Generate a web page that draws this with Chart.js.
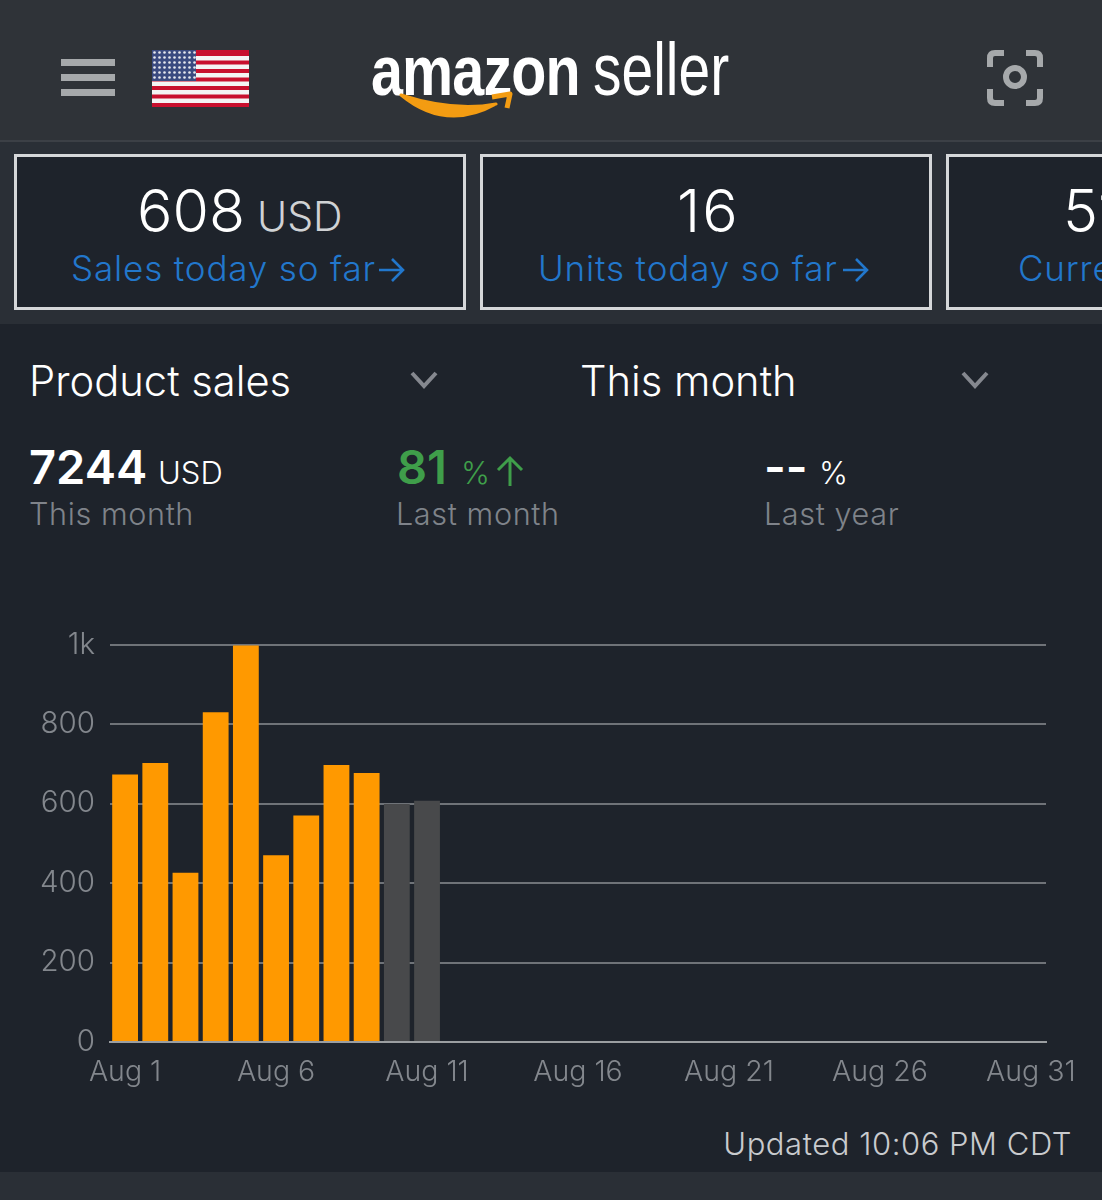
<!DOCTYPE html>
<html>
<head>
<meta charset="utf-8">
<title>amazon seller</title>
<script src="https://cdn.jsdelivr.net/npm/chart.js@4"></script>
<style>
  html, body { margin: 0; padding: 0; background: #1e232b; }
  body { position: relative; width: 1102px; height: 1200px; overflow: hidden; font-family: Inter, Roboto, sans-serif; }
  .abs { position: absolute; white-space: nowrap; line-height: 1; }
  #header { position: absolute; left: 0; top: 0; width: 1102px; height: 140px; background: #2f3338; }
  #band { position: absolute; left: 0; top: 140px; width: 1102px; height: 184px; background: #2a2f36; border-top: 2px solid #3c4046; box-sizing: border-box; }
  #footer { position: absolute; left: 0; top: 1172px; width: 1102px; height: 28px; background: #2a2f36; }
  .tile { position: absolute; top: 154px; width: 452px; height: 156px; box-sizing: border-box; background: #1e232b; border: 3px solid #d5d7d9; }
  .burger { position: absolute; left: 61px; width: 54px; height: 7px; background: #a6a9ab; }
  .big { color: #fff; font-size: 59px; font-weight: 300; }
  .unit { color: #d0d2d4; font-size: 41px; font-weight: 300; }
  .link { color: #2277cc; font-size: 35px; font-weight: 300; letter-spacing: .85px; }
  .pick { color: #fff; font-size: 41.7px; font-weight: 300; }
  .stat { font-size: 47px; font-weight: 600; color: #fff; }
  .statunit { font-size: 31px; font-weight: 300; color: #fff; }
  .sub { font-size: 30.6px; font-weight: 300; color: #7f838a; letter-spacing: .6px; }
  #chart { position: absolute; left: 0; top: 612px; }
</style>
</head>
<body>
<div id="header"></div>
<div id="band"></div>
<div id="footer"></div>

<!-- top bar -->
<div class="burger" style="top:59px"></div>
<div class="burger" style="top:74px"></div>
<div class="burger" style="top:89px"></div>
<svg class="abs" style="left:152px;top:50px" width="97" height="57" viewBox="0 0 97 57">
  <rect width="97" height="57" fill="#c8102e"/>
  <g fill="#f4f4f4">
    <rect y="6" width="97" height="4.5"/><rect y="14.5" width="97" height="4.5"/><rect y="23" width="97" height="4.5"/>
    <rect y="31.5" width="97" height="4.5"/><rect y="40" width="97" height="4.5"/><rect y="48.5" width="97" height="4.5"/>
  </g>
  <rect width="44" height="31" fill="#3b4a80"/>
  <pattern id="stars" width="5" height="5" patternUnits="userSpaceOnUse"><circle cx="2.5" cy="2.5" r="1.3" fill="#e8e8ee"/></pattern>
  <rect width="44" height="31" fill="url(#stars)"/>
</svg>
<div class="abs" style="left:371px;top:36px;color:#fff;font-family:'Liberation Sans';font-size:70px;font-weight:700;letter-spacing:-1px;transform:scaleX(.82);transform-origin:left top;">amazon</div>
<div class="abs" style="left:593px;top:33px;color:#fff;font-family:'Liberation Sans';font-size:74px;transform:scaleX(.77);transform-origin:left top;">seller</div>
<svg class="abs" style="left:396px;top:90px" width="120" height="32" viewBox="0 0 120 32">
  <path d="M5 5 Q50 42 100 14 Q58 22 5 5 Z" fill="#f39c12" stroke="#f39c12" stroke-width="3" stroke-linejoin="round"/>
  <path d="M96 7 L114 4 L111 18" fill="none" stroke="#f39c12" stroke-width="5" stroke-linejoin="round"/>
</svg>
<svg class="abs" style="left:987px;top:50px" width="56" height="56" viewBox="0 0 56 56" fill="none" stroke="#a6a9ab" stroke-width="6">
  <path d="M3 17 V8 Q3 3 8 3 H17"/><path d="M39 3 H48 Q53 3 53 8 V17"/>
  <path d="M3 39 V48 Q3 53 8 53 H17"/><path d="M39 53 H48 Q53 53 53 48 V39"/>
  <circle cx="28" cy="27" r="9"/>
</svg>

<!-- tiles -->
<div class="tile" style="left:14px"></div>
<div class="tile" style="left:480px"></div>
<div class="tile" style="left:946px;width:170px"></div>
<div class="abs big" style="left:137px;top:181px">608</div>
<div class="abs unit" style="left:257px;top:196px">USD</div>
<div class="abs link" style="left:71px;top:251px">Sales today so far</div>
<svg class="abs" style="left:377px;top:255px" width="30" height="30" viewBox="0 0 30 30" fill="none" stroke="#2277cc" stroke-width="2.6"><path d="M2 15 H26 M15 4 L26 15 L15 26"/></svg>
<div class="abs big" style="left:677px;top:181px;letter-spacing:2px">16</div>
<div class="abs link" style="left:538px;top:251px">Units today so far</div>
<svg class="abs" style="left:841px;top:255px" width="30" height="30" viewBox="0 0 30 30" fill="none" stroke="#2277cc" stroke-width="2.6"><path d="M2 15 H26 M15 4 L26 15 L15 26"/></svg>
<div class="abs big" style="left:1063px;top:181px">51</div>
<div class="abs link" style="left:1018px;top:251px">Current</div>

<!-- pickers -->
<div class="abs pick" style="left:29px;top:361px">Product sales</div>
<svg class="abs" style="left:409px;top:370px" width="30" height="20" viewBox="0 0 30 20" fill="none" stroke="#85888f" stroke-width="4"><path d="M3 3 L15 16 L27 3"/></svg>
<div class="abs pick" style="left:580px;top:361px">This month</div>
<svg class="abs" style="left:960px;top:370px" width="30" height="20" viewBox="0 0 30 20" fill="none" stroke="#85888f" stroke-width="4"><path d="M3 3 L15 16 L27 3"/></svg>

<!-- stats -->
<div class="abs stat" style="left:29px;top:443px">7244</div>
<div class="abs statunit" style="left:158px;top:457px">USD</div>
<div class="abs sub" style="left:29px;top:499px">This month</div>
<div class="abs stat" style="left:397px;top:443px;color:#3f9e4a">81</div>
<div class="abs statunit" style="left:461px;top:457px;color:#3f9e4a">%</div>
<svg class="abs" style="left:495px;top:455px" width="30" height="32" viewBox="0 0 30 32" fill="none" stroke="#3f9e4a" stroke-width="3"><path d="M15 31 V3 M3 15 L15 3 L27 15"/></svg>
<div class="abs sub" style="left:396px;top:499px">Last month</div>
<div class="abs stat" style="left:764px;top:443px">--</div>
<div class="abs statunit" style="left:819px;top:457px">%</div>
<div class="abs sub" style="left:764px;top:499px">Last year</div>

<canvas id="chart" width="1102" height="488"></canvas>
<div class="abs" style="right:30px;top:1128px;color:#c9cbce;font-size:31px;font-weight:300;letter-spacing:.55px">Updated 10:06 PM CDT</div>

<script>
// --------------------- Data ---------------------
const days = ["Aug 1","Aug 2","Aug 3","Aug 4","Aug 5","Aug 6","Aug 7","Aug 8","Aug 9","Aug 10",
  "Aug 11","Aug 12","Aug 13","Aug 14","Aug 15","Aug 16","Aug 17","Aug 18","Aug 19","Aug 20",
  "Aug 21","Aug 22","Aug 23","Aug 24","Aug 25","Aug 26","Aug 27","Aug 28","Aug 29","Aug 30","Aug 31"];
const salesValues = [673, 702, 426, 830, 998, 470, 570, 697, 677];
const pendingValues = [null, null, null, null, null, null, null, null, null, 599, 607];
const xTickLabels = ["Aug 1","Aug 6","Aug 11","Aug 16","Aug 21","Aug 26","Aug 31"];
const yTicks = [0, 200, 400, 600, 800, 1000];

// --------------------- Chart ---------------------
new Chart(document.getElementById("chart"), {
  type: "bar",
  data: {
    labels: days,
    datasets: [
      { label: "Sales", data: salesValues, backgroundColor: "#ff9900" },
      { label: "Today", data: pendingValues, backgroundColor: "#48494b" }
    ]
  },
  options: {
    responsive: false,
    animation: false,
    layout: { padding: { top: 19, right: 56 } },
    plugins: { legend: { display: false }, tooltip: { enabled: false } },
    datasets: { bar: { barPercentage: 0.855, categoryPercentage: 1 } },
    scales: {
      x: {
        stacked: true,
        grid: { display: false },
        border: { color: "#9b9ea1", width: 2 },
        afterFit: (axis) => { axis.height = 58; },
        ticks: {
          autoSkip: false,
          maxRotation: 0,
          padding: 5,
          color: "#83878d",
          font: { family: "Inter", size: 28.5, weight: "300" },
          callback: function (v) {
            const lab = this.getLabelForValue(v);
            return xTickLabels.includes(lab) ? lab : "";
          }
        }
      },
      y: {
        stacked: true,
        min: 0,
        max: 1000,
        afterFit: (axis) => { axis.width = 110; },
        afterBuildTicks: (axis) => { axis.ticks = yTicks.map(v => ({ value: v })); },
        grid: { color: "#6f7378", lineWidth: 2, drawTicks: false },
        border: { display: false },
        ticks: {
          padding: 15,
          color: "#83878d",
          font: { family: "Inter", size: 29.5, weight: "300" },
          callback: (v) => v === 1000 ? "1k" : String(v)
        }
      }
    }
  }
});
</script>
</body>
</html>
